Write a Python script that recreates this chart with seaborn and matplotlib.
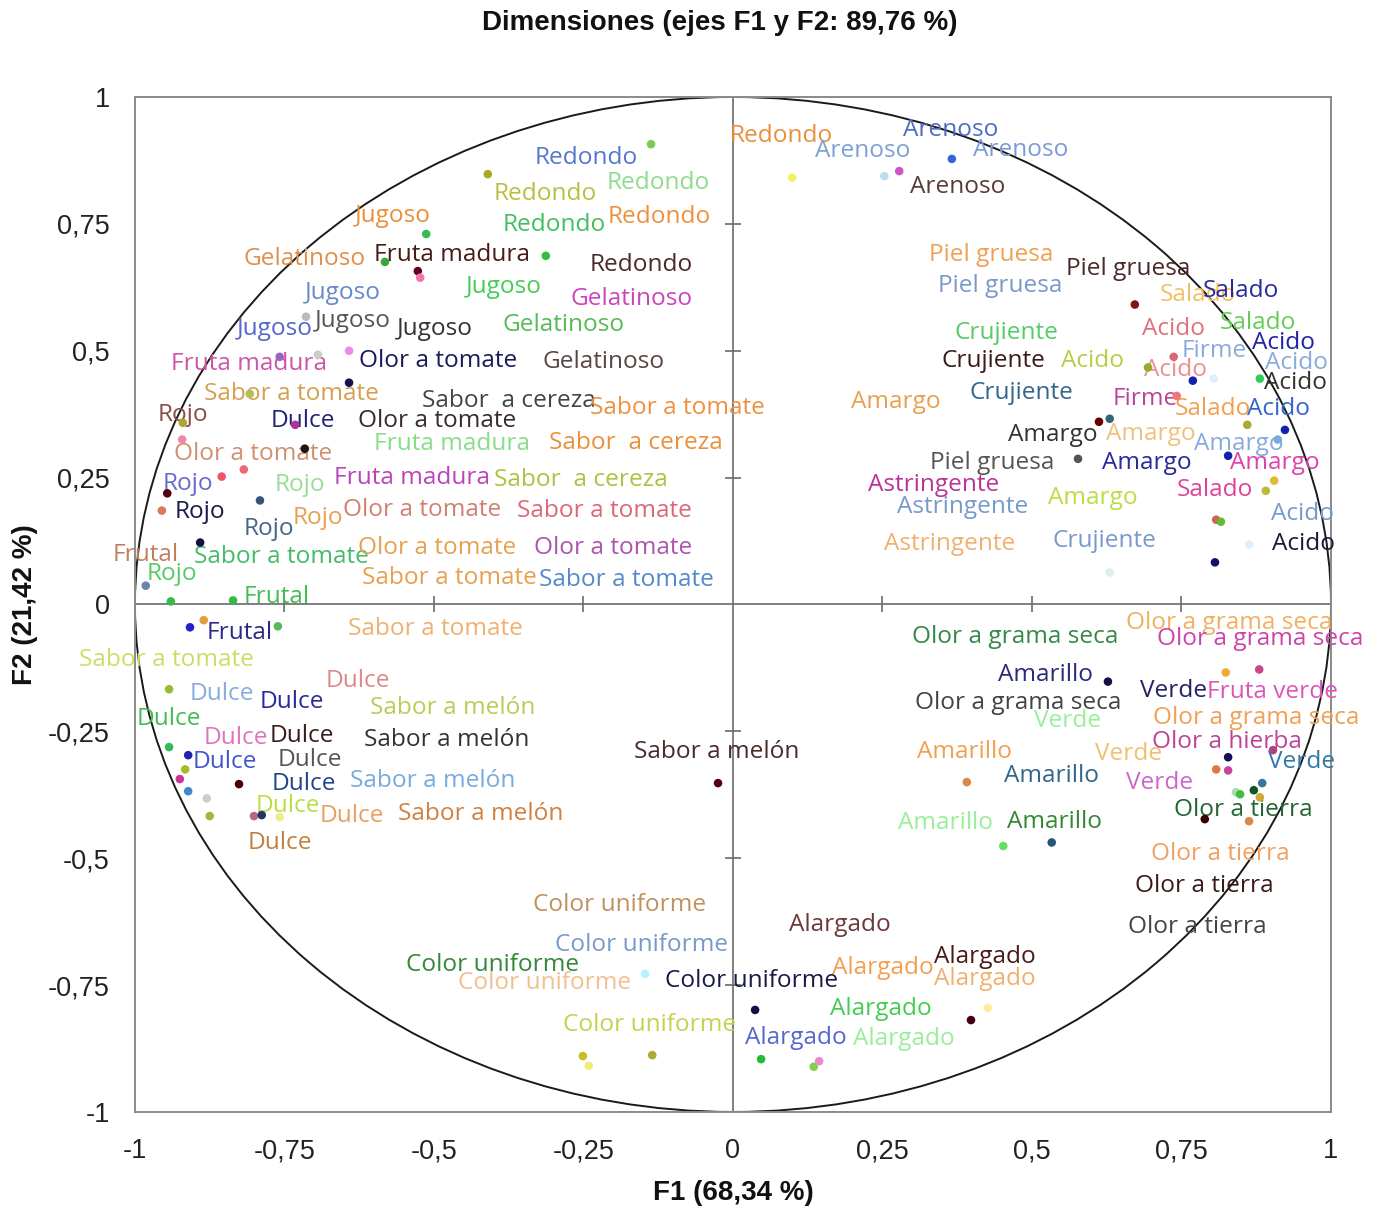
import matplotlib
matplotlib.use("Agg")
import matplotlib.pyplot as plt
from matplotlib.patches import Circle
from matplotlib.transforms import offset_copy
import seaborn as sns
import pandas as pd

# ---------------- data ----------------
title = "Dimensiones (ejes F1 y F2: 89,76 %)"
x_title = "F1 (68,34 %)"
y_title = "F2 (21,42 %)"

tick_values = [-1, -0.75, -0.5, -0.25, 0, 0.25, 0.5, 0.75, 1]
tick_labels = ["-1", "-0,75", "-0,5", "-0,25", "0", "0,25", "0,5", "0,75", "1"]

# variable labels (text, F1, F2 position of the label, colour)
label_text = [
    "Redondo", "Arenoso", "Arenoso", "Arenoso", "Arenoso",
    "Redondo", "Redondo", "Redondo", "Redondo", "Redondo", "Redondo",
    "Jugoso", "Gelatinoso", "Fruta madura", "Jugoso", "Gelatinoso",
    "Jugoso", "Jugoso", "Jugoso", "Jugoso", "Gelatinoso",
    "Fruta madura", "Olor a tomate", "Gelatinoso", "Sabor a tomate", "Sabor  a cereza",
    "Sabor a tomate", "Rojo", "Dulce", "Olor a tomate", "Fruta madura",
    "Sabor  a cereza", "Olor a tomate", "Rojo", "Rojo", "Fruta madura",
    "Sabor  a cereza", "Rojo", "Rojo", "Rojo", "Olor a tomate",
    "Sabor a tomate", "Frutal", "Sabor a tomate", "Olor a tomate", "Olor a tomate",
    "Rojo", "Sabor a tomate", "Sabor a tomate", "Frutal", "Frutal",
    "Sabor a tomate", "Sabor a tomate", "Dulce", "Dulce", "Dulce",
    "Sabor a melón", "Dulce", "Dulce", "Dulce", "Sabor a melón",
    "Dulce", "Dulce", "Dulce", "Sabor a melón", "Dulce",
    "Dulce", "Sabor a melón", "Dulce", "Sabor a melón",
    "Piel gruesa", "Piel gruesa", "Piel gruesa", "Salado", "Salado",
    "Crujiente", "Acido", "Salado", "Crujiente", "Acido",
    "Firme", "Acido", "Acido", "Acido", "Acido",
    "Amargo", "Crujiente", "Firme", "Salado", "Acido",
    "Amargo", "Amargo", "Amargo", "Piel gruesa", "Amargo",
    "Amargo", "Astringente", "Salado", "Astringente", "Amargo",
    "Acido", "Astringente", "Crujiente", "Acido",
    "Olor a grama seca", "Olor a grama seca", "Olor a grama seca", "Amarillo", "Verde",
    "Fruta verde", "Olor a grama seca", "Verde", "Olor a grama seca", "Amarillo",
    "Verde", "Olor a hierba", "Verde", "Amarillo", "Verde",
    "Olor a tierra", "Amarillo", "Amarillo", "Olor a tierra", "Olor a tierra",
    "Olor a tierra",
    "Alargado", "Color uniforme", "Color uniforme", "Color uniforme", "Color uniforme",
    "Color uniforme", "Alargado", "Alargado", "Alargado", "Alargado",
    "Color uniforme", "Alargado", "Alargado",
]
label_x = [
    -0.005, 0.284, 0.137, 0.401, 0.296,
    -0.331, -0.401, -0.212, -0.386, -0.209, -0.239,
    -0.632, -0.818, -0.600, -0.446, -0.271,
    -0.716, -0.829, -0.699, -0.562, -0.385,
    -0.940, -0.625, -0.319, -0.885, -0.520,
    -0.239, -0.962, -0.773, -0.627, -0.600,
    -0.308, -0.935, -0.953, -0.766, -0.667,
    -0.400, -0.933, -0.818, -0.737, -0.652,
    -0.361, -1.037, -0.901, -0.627, -0.333,
    -0.980, -0.620, -0.324, -0.818, -0.880,
    -0.644, -1.094, -0.681, -0.908, -0.791,
    -0.607, -0.997, -0.885, -0.774, -0.617,
    -0.903, -0.761, -0.771, -0.640, -0.798,
    -0.691, -0.560, -0.811, -0.166,
    0.328, 0.557, 0.343, 0.714, 0.786,
    0.371, 0.684, 0.814, 0.348, 0.548,
    0.751, 0.868, 0.890, 0.688, 0.888,
    0.197, 0.396, 0.635, 0.739, 0.860,
    0.460, 0.624, 0.771, 0.329, 0.617,
    0.831, 0.226, 0.742, 0.274, 0.527,
    0.900, 0.253, 0.535, 0.901,
    0.657, 0.299, 0.709, 0.443, 0.681,
    0.793, 0.304, 0.503, 0.702, 0.308,
    0.605, 0.701, 0.895, 0.453, 0.657,
    0.737, 0.276, 0.458, 0.699, 0.672,
    0.661,
    0.094, -0.334, -0.298, -0.547, -0.460,
    -0.114, 0.166, 0.336, 0.336, 0.162,
    -0.284, 0.020, 0.201,
]
label_y = [
    0.929, 0.941, 0.900, 0.902, 0.829,
    0.886, 0.815, 0.837, 0.754, 0.770, 0.675,
    0.772, 0.687, 0.695, 0.632, 0.608,
    0.620, 0.549, 0.565, 0.549, 0.557,
    0.480, 0.486, 0.484, 0.421, 0.407,
    0.394, 0.380, 0.368, 0.368, 0.323,
    0.325, 0.303, 0.244, 0.242, 0.256,
    0.252, 0.189, 0.154, 0.177, 0.193,
    0.191, 0.104, 0.100, 0.118, 0.118,
    0.065, 0.059, 0.055, 0.020, -0.051,
    -0.043, -0.104, -0.144, -0.171, -0.187,
    -0.199, -0.219, -0.258, -0.254, -0.262,
    -0.305, -0.301, -0.348, -0.341, -0.392,
    -0.411, -0.406, -0.465, -0.285,
    0.695, 0.667, 0.634, 0.616, 0.624,
    0.541, 0.549, 0.561, 0.486, 0.486,
    0.506, 0.522, 0.482, 0.467, 0.443,
    0.404, 0.423, 0.411, 0.392, 0.392,
    0.339, 0.341, 0.323, 0.285, 0.285,
    0.285, 0.242, 0.232, 0.197, 0.215,
    0.185, 0.126, 0.130, 0.126,
    -0.030, -0.059, -0.063, -0.134, -0.165,
    -0.167, -0.189, -0.224, -0.217, -0.285,
    -0.289, -0.266, -0.305, -0.333, -0.346,
    -0.400, -0.425, -0.423, -0.486, -0.549,
    -0.630,
    -0.626, -0.587, -0.665, -0.705, -0.740,
    -0.736, -0.711, -0.689, -0.732, -0.791,
    -0.823, -0.848, -0.850,
]
label_color = [
    "#E8903A", "#4F6CC4", "#7BA0D8", "#7B9AD8", "#5A3A3A",
    "#5577CC", "#B8C040", "#8FDB8F", "#40C060", "#EE9040", "#4A2A2A",
    "#E8903A", "#E0904A", "#4A1A1A", "#44CC55", "#CC44BB",
    "#6688CC", "#5566CC", "#555555", "#333333", "#55BB55",
    "#CC55AA", "#1A1A5A", "#5A4545", "#D4A050", "#444444",
    "#EE9040", "#8A4A4A", "#22227A", "#3A2A2A", "#88DD88",
    "#E8903A", "#D09070", "#6A6ACC", "#99DD99", "#BB44BB",
    "#B0C040", "#1A1A4A", "#446688", "#E8A050", "#D08070",
    "#DD6677", "#C08060", "#44BB66", "#E8A050", "#AA55AA",
    "#55CC66", "#E8A050", "#5588CC", "#44BB55", "#2A2A8A",
    "#F0B070", "#CCDD66", "#DD8888", "#88AADD", "#2A2A9A",
    "#BBCC55", "#44BB55", "#DD77BB", "#3A1A1A", "#333333",
    "#4455CC", "#555555", "#224488", "#77AADD", "#BBDD44",
    "#E8A060", "#D08040", "#C08040", "#4A2A2A",
    "#F0A050", "#4A2A2A", "#7799CC", "#F0C060", "#2A2A9A",
    "#55CC66", "#E07080", "#66CC55", "#3A1A1A", "#BBCC44",
    "#88AADD", "#2222AA", "#88AADD", "#E89090", "#333333",
    "#E8A050", "#336688", "#BB4499", "#F0A050", "#3366CC",
    "#333333", "#F0C080", "#88AADD", "#555555", "#2A2A9A",
    "#DD44AA", "#BB3399", "#DD4499", "#7799CC", "#BBDD44",
    "#7799CC", "#F0B070", "#7799CC", "#1A1A3A",
    "#F0B060", "#33884A", "#CC44AA", "#2A2A7A", "#222266",
    "#DD55BB", "#444444", "#99EE99", "#F0A050", "#F0A050",
    "#F0C070", "#BB4499", "#3377AA", "#336688", "#CC66CC",
    "#226633", "#99EE99", "#338833", "#F0A060", "#3A1A1A",
    "#444444",
    "#6A3A3A", "#C09060", "#7799CC", "#33883A", "#F0C090",
    "#1A1A4A", "#F0A050", "#4A1A1A", "#F0B070", "#44CC55",
    "#C8D050", "#5566CC", "#99EE99",
]

# variable points (F1, F2, colour)
point_x = [
    0.099, 0.253, 0.278, 0.366, -0.137, -0.410, -0.313, -0.513, -0.582, -0.527,
    -0.523, -0.714, -0.758, -0.694, -0.642, -0.642, -0.808, -0.920, -0.732, -0.921,
    -0.716, -0.855, -0.818, -0.946, -0.955, -0.791, -0.891, -0.982, -0.940, -0.836,
    -0.908, -0.885, -0.761, -0.943, -0.943, -0.911, -0.916, -0.925, -0.911, -0.880,
    -0.875, -0.826, -0.801, -0.788, -0.758, -0.025, 0.672, 0.737, 0.694, 0.769,
    0.804, 0.881, 0.742, 0.612, 0.630, 0.860, 0.923, 0.911, 0.577, 0.828,
    0.905, 0.891, 0.808, 0.816, 0.863, 0.806, 0.630, 0.627, 0.824, 0.880,
    0.391, 0.828, 0.808, 0.828, 0.903, 0.841, 0.848, 0.885, 0.871, 0.881,
    0.789, 0.863, 0.452, 0.533, -0.147, 0.037, 0.398, 0.426, -0.251, -0.241,
    -0.135, 0.047, 0.144, 0.135,
]
point_y = [
    0.841, 0.844, 0.854, 0.878, 0.907, 0.848, 0.687, 0.730, 0.675, 0.657,
    0.644, 0.567, 0.488, 0.492, 0.500, 0.437, 0.415, 0.358, 0.354, 0.325,
    0.307, 0.252, 0.266, 0.219, 0.185, 0.205, 0.122, 0.037, 0.006, 0.008,
    -0.045, -0.031, -0.043, -0.167, -0.281, -0.297, -0.325, -0.344, -0.368, -0.382,
    -0.417, -0.354, -0.417, -0.415, -0.419, -0.352, 0.591, 0.488, 0.467, 0.441,
    0.445, 0.445, 0.411, 0.360, 0.366, 0.354, 0.344, 0.325, 0.287, 0.293,
    0.244, 0.224, 0.167, 0.163, 0.118, 0.083, 0.063, -0.152, -0.134, -0.128,
    -0.350, -0.301, -0.325, -0.327, -0.287, -0.370, -0.374, -0.352, -0.366, -0.380,
    -0.423, -0.427, -0.476, -0.469, -0.728, -0.799, -0.819, -0.795, -0.890, -0.909,
    -0.888, -0.896, -0.900, -0.911,
]
point_color = [
    "#F5F060", "#BBDDEE", "#CC55CC", "#3366DD", "#77CC55", "#AAAA22", "#33BB44", "#33BB55", "#33AA33", "#660022",
    "#EE77AA", "#BBBBBB", "#9966BB", "#CCCCCC", "#EE88EE", "#111155", "#BBBB55", "#AAAA33", "#AA3399", "#EE88AA",
    "#221111", "#EE5566", "#EE6677", "#550011", "#DD7755", "#335577", "#111144", "#6688AA", "#33BB44", "#33BB45",
    "#2222CC", "#E0A040", "#55BB55", "#99BB33", "#33BB55", "#2222AA", "#AABB22", "#CC3399", "#4488CC", "#CCCCCD",
    "#99BB44", "#440000", "#BB6677", "#223366", "#EEEE88", "#550012", "#881111", "#DD6677", "#99AA33", "#1122AA",
    "#DDEEFF", "#33CC55", "#EE7777", "#660000", "#336677", "#AAAA34", "#1122AB", "#77AADD", "#555555", "#1122AC",
    "#DDBB33", "#BBBB33", "#CC6655", "#66BB33", "#DDEEFE", "#111166", "#DDEEEE", "#111145", "#EEAA33", "#CC4488",
    "#DD8844", "#111156", "#DD7744", "#CC4499", "#AA4488", "#AADDAA", "#44BB44", "#337799", "#115522", "#CCAA33",
    "#330000", "#DD8845", "#66DD66", "#225577", "#BBEEFF", "#111146", "#440011", "#FFEE99", "#CCBB22", "#EEEE77",
    "#AAAA35", "#22BB33", "#EE88CC", "#88CC55",
]

# ---------------- figure ----------------
sns.set_theme(style="white")
plt.rcParams["font.family"] = ["Open Sans", "DejaVu Sans"]

fig = plt.figure(figsize=(13.73, 12.11), dpi=100)
ax = fig.add_axes([0.0983, 0.0818, 0.8711, 0.8381])

df = pd.DataFrame({"F1": point_x, "F2": point_y, "col": point_color})
sns.scatterplot(data=df, x="F1", y="F2", hue="col",
                palette={c: c for c in point_color}, legend=False,
                s=38, linewidth=0, ax=ax, zorder=4)

text_trans = offset_copy(ax.transData, fig=fig, x=0, y=-3, units="dots")
for t, lx, ly, c in zip(label_text, label_x, label_y, label_color):
    ax.text(lx, ly, t, color=c, fontsize=17.6, ha="left", va="center",
            transform=text_trans, clip_on=False, zorder=3,
            family=["Open Sans", "DejaVu Sans"])

# correlation circle and centre axes
ax.add_patch(Circle((0, 0), 1, fill=False, edgecolor="#1a1a1a", linewidth=1.4, zorder=2))
ax.axhline(0, color="#6a6a6a", linewidth=1.2, zorder=1)
ax.axvline(0, color="#6a6a6a", linewidth=1.2, zorder=1)
inner = [v for v in tick_values if v not in (-1, 0, 1)]
ax.plot(inner, [0] * len(inner), linestyle="none", marker="|", markersize=12,
        markeredgewidth=1.2, color="#6a6a6a", zorder=1)
ax.plot([0] * len(inner), inner, linestyle="none", marker="_", markersize=12,
        markeredgewidth=1.2, color="#6a6a6a", zorder=1)

ax.set_xlim(-1, 1)
ax.set_ylim(-1, 1)
ax.set_xticks(tick_values)
ax.set_xticklabels(tick_labels)
ax.set_yticks(tick_values)
ax.set_yticklabels(tick_labels)
ax.tick_params(axis="both", length=0, labelsize=19.5, colors="#222222")
ax.tick_params(axis="x", pad=19)
ax.tick_params(axis="y", pad=18)
for lab in ax.get_xticklabels() + ax.get_yticklabels():
    lab.set_family(["Liberation Sans Narrow", "Liberation Sans", "DejaVu Sans"])
for sp in ax.spines.values():
    sp.set_color("#8a8a8a")
    sp.set_linewidth(1.4)

ax.set_xlabel(x_title, fontsize=20, fontweight="bold", color="#111111",
              family=["Liberation Sans Narrow", "Liberation Sans", "DejaVu Sans"])
ax.set_ylabel(y_title, fontsize=20, fontweight="bold", color="#111111",
              family=["Liberation Sans Narrow", "Liberation Sans", "DejaVu Sans"])
ax.xaxis.set_label_coords(0.5, -0.080)
ax.xaxis.label.set_va("center")
ax.yaxis.set_label_coords(-0.092, 0.5)
ax.yaxis.label.set_va("center")

fig.text(0.524, 0.981, title, fontsize=20, fontweight="bold", color="#111111",
         ha="center", va="center",
         family=["Liberation Sans Narrow", "Liberation Sans", "DejaVu Sans"])

fig.savefig("out.png", dpi=100)
